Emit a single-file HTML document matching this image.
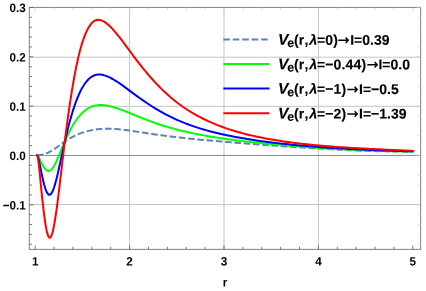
<!DOCTYPE html>
<html><head><meta charset="utf-8"><title>plot</title>
<style>html,body{margin:0;padding:0;background:#fff}body{width:426px;height:291px;overflow:hidden;position:relative}</style></head>
<body>
<svg width="426" height="291" viewBox="0 0 426 291" style="position:absolute;left:0;top:0;will-change:transform">
<rect width="426" height="291" fill="#fff"/>
<g stroke="#c4c4c4" stroke-width="1" fill="none"><line x1="129.60" x2="129.60" y1="7.45" y2="249.40"/><line x1="224.00" x2="224.00" y1="7.45" y2="249.40"/><line x1="318.40" x2="318.40" y1="7.45" y2="249.40"/><line x1="29.35" x2="420.60" y1="57.20" y2="57.20"/><line x1="29.35" x2="420.60" y1="106.30" y2="106.30"/><line x1="29.35" x2="420.60" y1="204.55" y2="204.55"/></g>
<line x1="29.35" x2="420.60" y1="155.45" y2="155.45" stroke="#8a8a8a" stroke-width="1"/>
<defs><clipPath id="c"><rect x="29.35" y="7.45" width="391.25" height="241.95"/></clipPath></defs>
<g clip-path="url(#c)" fill="none" stroke-width="2.00" stroke-linejoin="round" stroke-linecap="butt">
<path d="M36.99,155.30 L37.65,155.31 L38.31,155.29 L38.97,155.25 L39.63,155.18 L40.28,155.08 L40.94,154.97 L41.60,154.83 L42.26,154.68 L42.92,154.51 L43.57,154.32 L44.23,154.12 L44.89,153.90 L45.55,153.66 L46.21,153.41 L46.86,153.15 L47.52,152.87 L48.18,152.58 L48.84,152.27 L49.50,151.94 L50.15,151.60 L50.81,151.24 L51.47,150.87 L52.13,150.48 L52.79,150.08 L53.45,149.66 L54.10,149.24 L54.76,148.80 L55.42,148.36 L56.08,147.90 L56.74,147.44 L57.39,146.97 L58.05,146.50 L58.71,146.02 L59.37,145.54 L60.03,145.06 L60.68,144.58 L61.34,144.10 L62.00,143.63 L62.66,143.15 L63.32,142.69 L63.97,142.23 L64.63,141.77 L65.29,141.32 L65.95,140.88 L66.61,140.45 L67.26,140.03 L67.92,139.61 L68.58,139.21 L69.24,138.81 L69.90,138.42 L70.55,138.04 L71.21,137.66 L71.87,137.30 L72.53,136.95 L73.19,136.60 L73.85,136.27 L74.50,135.94 L75.16,135.62 L75.82,135.31 L76.48,135.01 L77.14,134.72 L77.79,134.43 L78.45,134.16 L79.11,133.89 L79.77,133.63 L80.43,133.38 L81.08,133.13 L81.74,132.90 L82.40,132.67 L85.43,131.71 L88.46,130.89 L91.49,130.22 L94.52,129.69 L97.56,129.28 L100.59,129.00 L103.62,128.82 L106.65,128.75 L109.68,128.77 L112.71,128.87 L115.74,129.05 L118.77,129.29 L121.81,129.58 L124.84,129.93 L127.87,130.31 L130.90,130.73 L133.93,131.17 L136.96,131.63 L139.99,132.10 L143.02,132.57 L146.06,133.04 L149.09,133.50 L152.12,133.95 L155.15,134.39 L158.18,134.81 L161.21,135.23 L164.24,135.63 L167.27,136.02 L170.30,136.40 L173.34,136.77 L176.37,137.13 L179.40,137.48 L182.43,137.82 L185.46,138.15 L188.49,138.47 L191.52,138.78 L194.55,139.09 L197.59,139.39 L200.62,139.69 L203.65,139.97 L206.68,140.26 L209.71,140.54 L212.74,140.81 L215.77,141.08 L218.80,141.34 L221.83,141.60 L224.87,141.86 L227.90,142.11 L230.93,142.36 L233.96,142.60 L236.99,142.84 L240.02,143.08 L243.05,143.31 L246.08,143.55 L249.12,143.78 L252.15,144.00 L255.18,144.23 L258.21,144.45 L261.24,144.67 L264.27,144.89 L267.30,145.11 L270.33,145.32 L273.37,145.54 L276.40,145.75 L279.43,145.96 L282.46,146.17 L285.49,146.38 L288.52,146.59 L291.55,146.80 L294.58,147.00 L297.61,147.20 L300.65,147.40 L303.68,147.60 L306.71,147.80 L309.74,147.99 L312.77,148.18 L315.80,148.36 L318.83,148.54 L321.86,148.72 L324.90,148.90 L327.93,149.07 L330.96,149.23 L333.99,149.39 L337.02,149.55 L340.05,149.70 L343.08,149.85 L346.11,149.99 L349.14,150.13 L352.18,150.26 L355.21,150.39 L358.24,150.51 L361.27,150.63 L364.30,150.74 L367.33,150.85 L370.36,150.95 L373.39,151.05 L376.43,151.14 L379.46,151.22 L382.49,151.30 L385.52,151.37 L388.55,151.44 L391.58,151.50 L394.61,151.55 L397.64,151.60 L400.68,151.65 L403.71,151.68 L406.74,151.71 L409.77,151.74 L412.80,151.76" stroke="#5e81b5" stroke-dasharray="6.6 2.7" stroke-dashoffset="0"/>
<path d="M36.99,155.30 L37.65,155.54 L38.31,156.42 L38.97,157.61 L39.63,158.92 L40.28,160.31 L40.94,161.70 L41.60,163.04 L42.26,164.31 L42.92,165.49 L43.57,166.60 L44.23,167.60 L44.89,168.49 L45.55,169.26 L46.21,169.89 L46.86,170.37 L47.52,170.71 L48.18,170.89 L48.84,170.92 L49.50,170.79 L50.15,170.51 L50.81,170.09 L51.47,169.52 L52.13,168.81 L52.79,167.98 L53.45,167.03 L54.10,165.96 L54.76,164.80 L55.42,163.55 L56.08,162.22 L56.74,160.83 L57.39,159.39 L58.05,157.90 L58.71,156.36 L59.37,154.80 L60.03,153.21 L60.68,151.60 L61.34,149.98 L62.00,148.36 L62.66,146.75 L63.32,145.16 L63.97,143.58 L64.63,142.04 L65.29,140.52 L65.95,139.03 L66.61,137.57 L67.26,136.14 L67.92,134.75 L68.58,133.39 L69.24,132.07 L69.90,130.78 L70.55,129.53 L71.21,128.31 L71.87,127.12 L72.53,125.97 L73.19,124.86 L73.85,123.77 L74.50,122.73 L75.16,121.71 L75.82,120.73 L76.48,119.79 L77.14,118.88 L77.79,118.00 L78.45,117.15 L79.11,116.34 L79.77,115.57 L80.43,114.82 L81.08,114.11 L81.74,113.43 L82.40,112.78 L85.43,110.18 L88.46,108.17 L91.49,106.71 L94.52,105.74 L97.56,105.20 L100.59,105.04 L103.62,105.19 L106.65,105.58 L109.68,106.17 L112.71,106.93 L115.74,107.82 L118.77,108.83 L121.81,109.92 L124.84,111.09 L127.87,112.29 L130.90,113.52 L133.93,114.76 L136.96,116.00 L139.99,117.22 L143.02,118.43 L146.06,119.61 L149.09,120.75 L152.12,121.86 L155.15,122.94 L158.18,123.97 L161.21,124.97 L164.24,125.93 L167.27,126.85 L170.30,127.73 L173.34,128.58 L176.37,129.39 L179.40,130.17 L182.43,130.92 L185.46,131.63 L188.49,132.32 L191.52,132.98 L194.55,133.61 L197.59,134.21 L200.62,134.80 L203.65,135.36 L206.68,135.90 L209.71,136.42 L212.74,136.92 L215.77,137.41 L218.80,137.88 L221.83,138.33 L224.87,138.77 L227.90,139.19 L230.93,139.60 L233.96,140.00 L236.99,140.39 L240.02,140.76 L243.05,141.13 L246.08,141.48 L249.12,141.83 L252.15,142.16 L255.18,142.49 L258.21,142.80 L261.24,143.11 L264.27,143.41 L267.30,143.71 L270.33,144.00 L273.37,144.28 L276.40,144.55 L279.43,144.82 L282.46,145.09 L285.49,145.35 L288.52,145.60 L291.55,145.85 L294.58,146.10 L297.61,146.34 L300.65,146.57 L303.68,146.80 L306.71,147.02 L309.74,147.24 L312.77,147.45 L315.80,147.66 L318.83,147.87 L321.86,148.06 L324.90,148.26 L327.93,148.44 L330.96,148.62 L333.99,148.80 L337.02,148.97 L340.05,149.14 L343.08,149.30 L346.11,149.45 L349.14,149.60 L352.18,149.75 L355.21,149.88 L358.24,150.02 L361.27,150.15 L364.30,150.27 L367.33,150.39 L370.36,150.50 L373.39,150.61 L376.43,150.71 L379.46,150.81 L382.49,150.90 L385.52,150.99 L388.55,151.07 L391.58,151.15 L394.61,151.22 L397.64,151.29 L400.68,151.35 L403.71,151.41 L406.74,151.46 L409.77,151.51 L412.80,151.56" stroke="#00ff00" stroke-linecap="square"/>
<path d="M36.99,155.30 L37.65,155.83 L38.31,157.86 L38.97,160.61 L39.63,163.69 L40.28,166.96 L40.94,170.26 L41.60,173.48 L42.26,176.56 L42.92,179.48 L43.57,182.22 L44.23,184.77 L44.89,187.07 L45.55,189.11 L46.21,190.85 L46.86,192.29 L47.52,193.41 L48.18,194.20 L48.84,194.65 L49.50,194.78 L50.15,194.59 L50.81,194.08 L51.47,193.26 L52.13,192.15 L52.79,190.77 L53.45,189.13 L54.10,187.25 L54.76,185.16 L55.42,182.89 L56.08,180.45 L56.74,177.88 L57.39,175.19 L58.05,172.40 L58.71,169.52 L59.37,166.58 L60.03,163.57 L60.68,160.53 L61.34,157.46 L62.00,154.39 L62.66,151.33 L63.32,148.30 L63.97,145.31 L64.63,142.37 L65.29,139.49 L65.95,136.66 L66.61,133.90 L67.26,131.20 L67.92,128.57 L68.58,126.00 L69.24,123.49 L69.90,121.06 L70.55,118.70 L71.21,116.40 L71.87,114.17 L72.53,112.00 L73.19,109.91 L73.85,107.88 L74.50,105.91 L75.16,104.01 L75.82,102.18 L76.48,100.41 L77.14,98.71 L77.79,97.08 L78.45,95.52 L79.11,94.02 L79.77,92.58 L80.43,91.21 L81.08,89.90 L81.74,88.65 L82.40,87.47 L85.43,82.78 L88.46,79.26 L91.49,76.78 L94.52,75.25 L97.56,74.55 L100.59,74.54 L103.62,75.10 L106.65,76.10 L109.68,77.41 L112.71,79.00 L115.74,80.80 L118.77,82.78 L121.81,84.90 L124.84,87.10 L127.87,89.36 L130.90,91.63 L133.93,93.88 L136.96,96.10 L139.99,98.29 L143.02,100.43 L146.06,102.51 L149.09,104.53 L152.12,106.48 L155.15,108.36 L158.18,110.17 L161.21,111.91 L164.24,113.58 L167.27,115.18 L170.30,116.70 L173.34,118.15 L176.37,119.54 L179.40,120.87 L182.43,122.13 L185.46,123.34 L188.49,124.49 L191.52,125.58 L194.55,126.63 L197.59,127.62 L200.62,128.58 L203.65,129.48 L206.68,130.35 L209.71,131.18 L212.74,131.98 L215.77,132.74 L218.80,133.47 L221.83,134.17 L224.87,134.84 L227.90,135.48 L230.93,136.10 L233.96,136.70 L236.99,137.27 L240.02,137.82 L243.05,138.35 L246.08,138.86 L249.12,139.35 L252.15,139.82 L255.18,140.27 L258.21,140.71 L261.24,141.13 L264.27,141.54 L267.30,141.93 L270.33,142.31 L273.37,142.68 L276.40,143.03 L279.43,143.38 L282.46,143.71 L285.49,144.03 L288.52,144.35 L291.55,144.65 L294.58,144.95 L297.61,145.23 L300.65,145.51 L303.68,145.78 L306.71,146.04 L309.74,146.29 L312.77,146.54 L315.80,146.77 L318.83,147.00 L321.86,147.23 L324.90,147.44 L327.93,147.65 L330.96,147.85 L333.99,148.04 L337.02,148.23 L340.05,148.42 L343.08,148.59 L346.11,148.76 L349.14,148.93 L352.18,149.09 L355.21,149.24 L358.24,149.39 L361.27,149.53 L364.30,149.67 L367.33,149.80 L370.36,149.93 L373.39,150.05 L376.43,150.17 L379.46,150.29 L382.49,150.40 L385.52,150.51 L388.55,150.61 L391.58,150.71 L394.61,150.80 L397.64,150.89 L400.68,150.98 L403.71,151.07 L406.74,151.15 L409.77,151.23 L412.80,151.30" stroke="#0000ff" stroke-linecap="square"/>
<path d="M36.99,155.30 L37.65,156.35 L38.31,160.42 L38.97,165.96 L39.63,172.19 L40.28,178.83 L40.94,185.55 L41.60,192.13 L42.26,198.44 L42.92,204.44 L43.57,210.12 L44.23,215.41 L44.89,220.24 L45.55,224.55 L46.21,228.29 L46.86,231.43 L47.52,233.94 L48.18,235.82 L48.84,237.04 L49.50,237.63 L50.15,237.58 L50.81,236.92 L51.47,235.66 L52.13,233.82 L52.79,231.46 L53.45,228.59 L54.10,225.26 L54.76,221.52 L55.42,217.42 L56.08,213.00 L56.74,208.32 L57.39,203.41 L58.05,198.30 L58.71,193.03 L59.37,187.61 L60.03,182.08 L60.68,176.47 L61.34,170.82 L62.00,165.16 L62.66,159.51 L63.32,153.91 L63.97,148.40 L64.63,142.97 L65.29,137.65 L65.95,132.45 L66.61,127.35 L67.26,122.37 L67.92,117.52 L68.58,112.79 L69.24,108.18 L69.90,103.70 L70.55,99.35 L71.21,95.13 L71.87,91.03 L72.53,87.06 L73.19,83.21 L73.85,79.49 L74.50,75.88 L75.16,72.40 L75.82,69.05 L76.48,65.82 L77.14,62.71 L77.79,59.73 L78.45,56.88 L79.11,54.14 L79.77,51.53 L80.43,49.04 L81.08,46.67 L81.74,44.41 L82.40,42.27 L85.43,33.85 L88.46,27.62 L91.49,23.34 L94.52,20.82 L97.56,19.82 L100.59,20.09 L103.62,21.38 L106.65,23.44 L109.68,26.05 L112.71,29.12 L115.74,32.56 L118.77,36.28 L121.81,40.21 L124.84,44.28 L127.87,48.41 L130.90,52.52 L133.93,56.58 L136.96,60.57 L139.99,64.48 L143.02,68.28 L146.06,71.98 L149.09,75.56 L152.12,79.02 L155.15,82.34 L158.18,85.53 L161.21,88.60 L164.24,91.53 L167.27,94.33 L170.30,97.00 L173.34,99.54 L176.37,101.96 L179.40,104.26 L182.43,106.45 L185.46,108.53 L188.49,110.50 L191.52,112.38 L194.55,114.16 L197.59,115.86 L200.62,117.47 L203.65,119.00 L206.68,120.45 L209.71,121.83 L212.74,123.15 L215.77,124.40 L218.80,125.59 L221.83,126.73 L224.87,127.82 L227.90,128.85 L230.93,129.85 L233.96,130.79 L236.99,131.70 L240.02,132.56 L243.05,133.38 L246.08,134.17 L249.12,134.92 L252.15,135.63 L255.18,136.32 L258.21,136.97 L261.24,137.59 L264.27,138.19 L267.30,138.75 L270.33,139.30 L273.37,139.82 L276.40,140.31 L279.43,140.79 L282.46,141.25 L285.49,141.68 L288.52,142.10 L291.55,142.50 L294.58,142.89 L297.61,143.26 L300.65,143.62 L303.68,143.96 L306.71,144.28 L309.74,144.60 L312.77,144.90 L315.80,145.18 L318.83,145.46 L321.86,145.73 L324.90,145.99 L327.93,146.23 L330.96,146.47 L333.99,146.70 L337.02,146.92 L340.05,147.13 L343.08,147.33 L346.11,147.53 L349.14,147.72 L352.18,147.91 L355.21,148.09 L358.24,148.26 L361.27,148.43 L364.30,148.59 L367.33,148.75 L370.36,148.91 L373.39,149.06 L376.43,149.21 L379.46,149.35 L382.49,149.50 L385.52,149.64 L388.55,149.78 L391.58,149.92 L394.61,150.05 L397.64,150.19 L400.68,150.32 L403.71,150.45 L406.74,150.58 L409.77,150.72 L412.80,150.85" stroke="#ff0000" stroke-linecap="square"/>
</g>
<rect x="29.35" y="7.45" width="391.25" height="241.95" fill="none" stroke="#8c8c8c" stroke-width="1.1"/>
<g stroke="#606060" stroke-width="0.85"><line x1="35.20" x2="35.20" y1="249.40" y2="245.50"/><line x1="54.08" x2="54.08" y1="249.40" y2="246.80"/><line x1="72.96" x2="72.96" y1="249.40" y2="246.80"/><line x1="91.84" x2="91.84" y1="249.40" y2="246.80"/><line x1="110.72" x2="110.72" y1="249.40" y2="246.80"/><line x1="129.60" x2="129.60" y1="249.40" y2="245.50"/><line x1="148.48" x2="148.48" y1="249.40" y2="246.80"/><line x1="167.36" x2="167.36" y1="249.40" y2="246.80"/><line x1="186.24" x2="186.24" y1="249.40" y2="246.80"/><line x1="205.12" x2="205.12" y1="249.40" y2="246.80"/><line x1="224.00" x2="224.00" y1="249.40" y2="245.50"/><line x1="242.88" x2="242.88" y1="249.40" y2="246.80"/><line x1="261.76" x2="261.76" y1="249.40" y2="246.80"/><line x1="280.64" x2="280.64" y1="249.40" y2="246.80"/><line x1="299.52" x2="299.52" y1="249.40" y2="246.80"/><line x1="318.40" x2="318.40" y1="249.40" y2="245.50"/><line x1="337.28" x2="337.28" y1="249.40" y2="246.80"/><line x1="356.16" x2="356.16" y1="249.40" y2="246.80"/><line x1="375.04" x2="375.04" y1="249.40" y2="246.80"/><line x1="393.92" x2="393.92" y1="249.40" y2="246.80"/><line x1="412.80" x2="412.80" y1="249.40" y2="245.50"/><line x1="29.35" x2="31.95" y1="244.25" y2="244.25"/><line x1="29.35" x2="31.95" y1="234.39" y2="234.39"/><line x1="29.35" x2="31.95" y1="224.52" y2="224.52"/><line x1="29.35" x2="31.95" y1="214.66" y2="214.66"/><line x1="29.35" x2="33.25" y1="204.79" y2="204.79"/><line x1="29.35" x2="31.95" y1="194.92" y2="194.92"/><line x1="29.35" x2="31.95" y1="185.06" y2="185.06"/><line x1="29.35" x2="31.95" y1="175.19" y2="175.19"/><line x1="29.35" x2="31.95" y1="165.33" y2="165.33"/><line x1="29.35" x2="33.25" y1="155.46" y2="155.46"/><line x1="29.35" x2="31.95" y1="145.59" y2="145.59"/><line x1="29.35" x2="31.95" y1="135.73" y2="135.73"/><line x1="29.35" x2="31.95" y1="125.86" y2="125.86"/><line x1="29.35" x2="31.95" y1="116.00" y2="116.00"/><line x1="29.35" x2="33.25" y1="106.13" y2="106.13"/><line x1="29.35" x2="31.95" y1="96.26" y2="96.26"/><line x1="29.35" x2="31.95" y1="86.40" y2="86.40"/><line x1="29.35" x2="31.95" y1="76.53" y2="76.53"/><line x1="29.35" x2="31.95" y1="66.67" y2="66.67"/><line x1="29.35" x2="33.25" y1="56.80" y2="56.80"/><line x1="29.35" x2="31.95" y1="46.93" y2="46.93"/><line x1="29.35" x2="31.95" y1="37.07" y2="37.07"/><line x1="29.35" x2="31.95" y1="27.20" y2="27.20"/><line x1="29.35" x2="31.95" y1="17.34" y2="17.34"/><line x1="29.35" x2="33.25" y1="7.47" y2="7.47"/></g>
<g stroke="#c8c8c8" stroke-width="0.6"><line x1="35.20" x2="35.20" y1="7.45" y2="11.35"/><line x1="54.08" x2="54.08" y1="7.45" y2="10.05"/><line x1="72.96" x2="72.96" y1="7.45" y2="10.05"/><line x1="91.84" x2="91.84" y1="7.45" y2="10.05"/><line x1="110.72" x2="110.72" y1="7.45" y2="10.05"/><line x1="129.60" x2="129.60" y1="7.45" y2="11.35"/><line x1="148.48" x2="148.48" y1="7.45" y2="10.05"/><line x1="167.36" x2="167.36" y1="7.45" y2="10.05"/><line x1="186.24" x2="186.24" y1="7.45" y2="10.05"/><line x1="205.12" x2="205.12" y1="7.45" y2="10.05"/><line x1="224.00" x2="224.00" y1="7.45" y2="11.35"/><line x1="242.88" x2="242.88" y1="7.45" y2="10.05"/><line x1="261.76" x2="261.76" y1="7.45" y2="10.05"/><line x1="280.64" x2="280.64" y1="7.45" y2="10.05"/><line x1="299.52" x2="299.52" y1="7.45" y2="10.05"/><line x1="318.40" x2="318.40" y1="7.45" y2="11.35"/><line x1="337.28" x2="337.28" y1="7.45" y2="10.05"/><line x1="356.16" x2="356.16" y1="7.45" y2="10.05"/><line x1="375.04" x2="375.04" y1="7.45" y2="10.05"/><line x1="393.92" x2="393.92" y1="7.45" y2="10.05"/><line x1="412.80" x2="412.80" y1="7.45" y2="11.35"/><line x1="420.60" x2="418.00" y1="244.25" y2="244.25"/><line x1="420.60" x2="418.00" y1="234.39" y2="234.39"/><line x1="420.60" x2="418.00" y1="224.52" y2="224.52"/><line x1="420.60" x2="418.00" y1="214.66" y2="214.66"/><line x1="420.60" x2="416.70" y1="204.79" y2="204.79"/><line x1="420.60" x2="418.00" y1="194.92" y2="194.92"/><line x1="420.60" x2="418.00" y1="185.06" y2="185.06"/><line x1="420.60" x2="418.00" y1="175.19" y2="175.19"/><line x1="420.60" x2="418.00" y1="165.33" y2="165.33"/><line x1="420.60" x2="416.70" y1="155.46" y2="155.46"/><line x1="420.60" x2="418.00" y1="145.59" y2="145.59"/><line x1="420.60" x2="418.00" y1="135.73" y2="135.73"/><line x1="420.60" x2="418.00" y1="125.86" y2="125.86"/><line x1="420.60" x2="418.00" y1="116.00" y2="116.00"/><line x1="420.60" x2="416.70" y1="106.13" y2="106.13"/><line x1="420.60" x2="418.00" y1="96.26" y2="96.26"/><line x1="420.60" x2="418.00" y1="86.40" y2="86.40"/><line x1="420.60" x2="418.00" y1="76.53" y2="76.53"/><line x1="420.60" x2="418.00" y1="66.67" y2="66.67"/><line x1="420.60" x2="416.70" y1="56.80" y2="56.80"/><line x1="420.60" x2="418.00" y1="46.93" y2="46.93"/><line x1="420.60" x2="418.00" y1="37.07" y2="37.07"/><line x1="420.60" x2="418.00" y1="27.20" y2="27.20"/><line x1="420.60" x2="418.00" y1="17.34" y2="17.34"/><line x1="420.60" x2="416.70" y1="7.47" y2="7.47"/></g>
<g font-family="'Liberation Sans', Arial, Helvetica, sans-serif" font-weight="bold" font-size="11.7" fill="#000" text-rendering="geometricPrecision">
<text transform="translate(25.8,12.07) rotate(0.03) scale(1,1.040)" text-anchor="end">0.3</text>
<text transform="translate(25.8,61.40) rotate(0.03) scale(1,1.040)" text-anchor="end">0.2</text>
<text transform="translate(25.8,110.73) rotate(0.03) scale(1,1.040)" text-anchor="end">0.1</text>
<text transform="translate(25.8,160.06) rotate(0.03) scale(1,1.040)" text-anchor="end">0.0</text>
<text transform="translate(25.8,209.39) rotate(0.03) scale(1,1.040)" text-anchor="end">−0.1</text>
<text transform="translate(35.20,265.4) rotate(0.03) scale(1,1.040)" text-anchor="middle">1</text>
<text transform="translate(129.60,265.4) rotate(0.03) scale(1,1.040)" text-anchor="middle">2</text>
<text transform="translate(224.00,265.4) rotate(0.03) scale(1,1.040)" text-anchor="middle">3</text>
<text transform="translate(318.40,265.4) rotate(0.03) scale(1,1.040)" text-anchor="middle">4</text>
<text transform="translate(412.80,265.4) rotate(0.03) scale(1,1.040)" text-anchor="middle">5</text>
<text transform="translate(225,286.4) rotate(0.03) scale(1,1.040)" text-anchor="middle">r</text>
</g>
<g font-family="'Liberation Sans', Arial, Helvetica, sans-serif" font-weight="bold" font-size="14" fill="#000" stroke="#000" stroke-width="0.12" stroke-linejoin="round" text-rendering="geometricPrecision">
<line x1="223.35" x2="267.7" y1="39.40" y2="39.40" stroke="#5e81b5" stroke-width="2.00" stroke-dasharray="6.6 2.84"/>
<text transform="translate(0,44.50) rotate(0.03) scale(1,1.000)" y="0"><tspan x="278.0" font-style="italic" font-size="15.6">V</tspan><tspan x="287.25" font-size="12.3" dy="2.4">e</tspan><tspan x="294.0 298.8 304.55" dy="-2.4">(r,</tspan><tspan x="309.2" font-style="italic" font-size="14.4">λ</tspan><tspan x="316.9" letter-spacing="0.15">=0)</tspan><tspan x="337.50" font-family="'DejaVu Sans', sans-serif" stroke="none" font-size="14.4">→</tspan><tspan x="350.20">I=0.39</tspan></text>
<line x1="223.35" x2="269.5" y1="63.95" y2="63.95" stroke="#00ff00" stroke-width="2.00"/>
<text transform="translate(0,69.05) rotate(0.03) scale(1,1.000)" y="0"><tspan x="278.0" font-style="italic" font-size="15.6">V</tspan><tspan x="287.25" font-size="12.3" dy="2.4">e</tspan><tspan x="294.0 298.8 304.55" dy="-2.4">(r,</tspan><tspan x="309.2" font-style="italic" font-size="14.4">λ</tspan><tspan x="316.9" letter-spacing="0.15">=−0.44)</tspan><tspan x="366.40" font-family="'DejaVu Sans', sans-serif" stroke="none" font-size="14.4">→</tspan><tspan x="378.40">I=0.0</tspan></text>
<line x1="223.35" x2="269.5" y1="88.60" y2="88.60" stroke="#0000ff" stroke-width="2.00"/>
<text transform="translate(0,93.70) rotate(0.03) scale(1,1.000)" y="0"><tspan x="278.0" font-style="italic" font-size="15.6">V</tspan><tspan x="287.25" font-size="12.3" dy="2.4">e</tspan><tspan x="294.0 298.8 304.55" dy="-2.4">(r,</tspan><tspan x="309.2" font-style="italic" font-size="14.4">λ</tspan><tspan x="316.9" letter-spacing="0.15">=−1)</tspan><tspan x="346.60" font-family="'DejaVu Sans', sans-serif" stroke="none" font-size="14.4">→</tspan><tspan x="359.00">I=−0.5</tspan></text>
<line x1="223.35" x2="269.5" y1="113.20" y2="113.20" stroke="#ff0000" stroke-width="2.00"/>
<text transform="translate(0,118.30) rotate(0.03) scale(1,1.000)" y="0"><tspan x="278.0" font-style="italic" font-size="15.6">V</tspan><tspan x="287.25" font-size="12.3" dy="2.4">e</tspan><tspan x="294.0 298.8 304.55" dy="-2.4">(r,</tspan><tspan x="309.2" font-style="italic" font-size="14.4">λ</tspan><tspan x="316.9" letter-spacing="0.15">=−2)</tspan><tspan x="346.60" font-family="'DejaVu Sans', sans-serif" stroke="none" font-size="14.4">→</tspan><tspan x="359.00">I=−1.39</tspan></text>
</g>
</svg>
</body></html>
